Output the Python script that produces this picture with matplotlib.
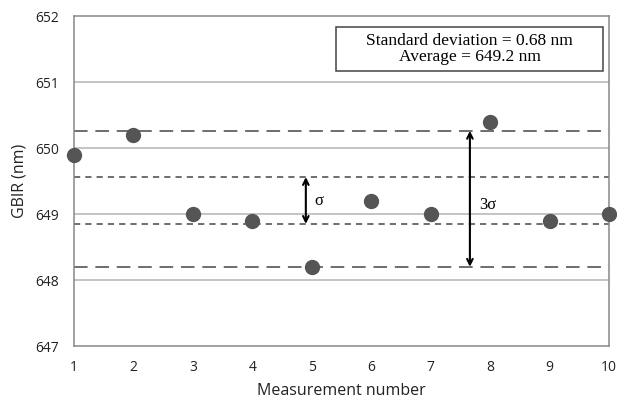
import numpy as np
import matplotlib.pyplot as plt
from matplotlib.patches import Rectangle

measurement = [1, 2, 3, 4, 5, 6, 7, 8, 9, 10]
gbir = [649.9, 650.2, 649.0, 648.9, 648.2, 649.2, 649.0, 650.4, 648.9, 649.0]
std_dev = 0.68
average = 649.2
# reference lines
long_dash = [650.26, 648.2]
short_dash = [649.56, 648.85]
y_ticks = [647, 648, 649, 650, 651, 652]

plt.rcParams['font.family'] = ['Open Sans', 'DejaVu Sans']
serif = ['Liberation Serif', 'DejaVu Serif']

fig = plt.figure(figsize=(6.17, 3.99), dpi=100)
ax = fig.add_axes([74 / 617, 1 - 346 / 399, 535 / 617, 330 / 399])

for y in y_ticks[1:-1]:
    ax.axhline(y, color='#b4b4b4', lw=1.1, zorder=1)

for y in long_dash:
    ax.axhline(y, color='#6e6e6e', lw=1.4, dashes=(7, 4), zorder=2)
for y in short_dash:
    ax.axhline(y, color='#6e6e6e', lw=1.4, dashes=(3.2, 2.6), zorder=2)

ax.plot(measurement, gbir, 'o', color='#555555', ms=10, clip_on=False, zorder=4)

# sigma arrows
ax.annotate('', xy=(4.9, short_dash[0]), xytext=(4.9, short_dash[1]),
            arrowprops=dict(arrowstyle='<->', color='black', lw=1.5,
                            shrinkA=0, shrinkB=0))
ax.text(5.05, 649.2, 'σ', family=serif, fontsize=12, va='center')
ax.annotate('', xy=(7.66, long_dash[0]), xytext=(7.66, long_dash[1]),
            arrowprops=dict(arrowstyle='<->', color='black', lw=1.5,
                            shrinkA=0, shrinkB=0))
ax.text(7.82, 649.14, '3σ', family=serif, fontsize=12, va='center')

# info box
ax.add_patch(Rectangle((5.41, 651.17), 4.49, 0.66, fc='white', ec='#444444',
                       lw=1.1, zorder=5))
ax.text(7.655, 651.5,
        f'Standard deviation = {std_dev:.2f} nm\nAverage = {average:.1f} nm',
        family=serif, fontsize=12.5, ha='center', va='center', linespacing=1.0,
        zorder=6)

ax.set_xlim(1, 10)
ax.set_ylim(647, 652)
ax.set_xticks(measurement)
ax.set_yticks(y_ticks)
ax.tick_params(length=0, labelsize=10, colors='#222222', pad=10)
ax.tick_params(axis='y', pad=11)
for s in ax.spines.values():
    s.set_color('#888888')
    s.set_linewidth(1.1)

ax.set_xlabel('Measurement number', fontsize=11.5, color='#222222', labelpad=6)
ax.set_ylabel('GBIR (nm)', fontsize=11.5, color='#222222')
ax.yaxis.set_label_coords(-46 / 535, 0.5)

fig.savefig('out.png', dpi=100)
